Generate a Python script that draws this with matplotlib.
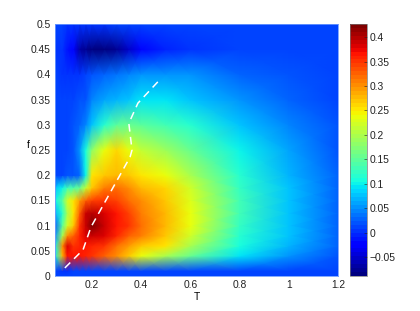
import numpy as np
import matplotlib
matplotlib.use('Agg')
import matplotlib.pyplot as plt

plt.rcParams['font.family'] = ['Liberation Sans', 'DejaVu Sans']
plt.rcParams['font.size'] = 7.4

# grid of the colour map
T_vals = [0.05, 0.08, 0.1, 0.125, 0.15, 0.175, 0.2, 0.25, 0.3, 0.35, 0.4, 0.5, 0.6, 0.8, 1.0, 1.2]
f_vals = [0, 0.01, 0.04, 0.06, 0.08, 0.1, 0.125, 0.15, 0.175, 0.2, 0.25, 0.3, 0.35, 0.4, 0.45, 0.5]

# one row per f value
row_000 = [.01, .01, .01, .01, .01, .01, .01, .01, .01, .01, .01, .01, .01, .01, .01, .01]
row_001 = [.01, 0, 0, .01, .01, .01, .01, .01, .01, .015, .015, .015, .015, .015, .015, .01]
row_004 = [.10, .28, .37, .37, .37, .36, .35, .33, .30, .27, .24, .20, .16, .09, .05, .02]
row_006 = [.10, .30, .38, .35, .36, .37, .36, .35, .32, .29, .27, .25, .20, .11, .07, .025]
row_008 = [.05, .20, .30, .33, .36, .38, .39, .38, .36, .33, .31, .27, .22, .12, .075, .025]
row_010 = [.03, .15, .22, .27, .35, .39, .42, .39, .37, .35, .32, .28, .24, .125, .075, .025]
row_0125 = [.07, .12, .20, .25, .33, .39, .40, .38, .37, .34, .31, .28, .24, .13, .08, .028]
row_015 = [.10, .15, .22, .25, .29, .33, .34, .35, .34, .32, .30, .27, .23, .13, .08, .028]
row_0175 = [.08, .10, .13, .14, .16, .21, .27, .31, .32, .30, .28, .26, .22, .125, .075, .025]
row_020 = [.015, .015, .02, .02, .03, .10, .25, .27, .28, .27, .25, .24, .20, .12, .07, .025]
row_025 = [.01, .01, .015, .02, .05, .11, .18, .24, .26, .24, .21, .19, .16, .10, .06, .02]
row_030 = [.01, .01, .015, .02, .03, .04, .08, .12, .15, .16, .15, .135, .12, .08, .045, .018]
row_035 = [.01, .01, .01, .01, .02, .02, .04, .06, .07, .08, .09, .09, .08, .055, .03, .015]
row_040 = [.01, .005, .005, .005, .005, .01, .02, .03, .035, .04, .05, .055, .05, .03, .02, .012]
row_045 = [.005, 0, -.01, -.02, -.07, -.08, -.085, -.085, -.08, -.05, -.02, -.005, 0, .015, .015, .012]
row_050 = [.01, .01, .005, .005, .005, .005, .005, .005, .01, .01, .01, .01, .01, .012, .012, .012]

# dashed curve
line_T = [.09, .164, .196, .355, .363, .35, .387, .477]
line_f = [.016, .052, .097, .236, .25, .303, .343, .39]

x_ticks = [0.2, 0.4, 0.6, 0.8, 1, 1.2]
y_ticks = [0, 0.05, 0.1, 0.15, 0.2, 0.25, 0.3, 0.35, 0.4, 0.45, 0.5]
y_labels = ['0', '0.05', '0.1', '0.15', '0.2', '0.25', '0.3', '0.35', '0.4', '0.45', '0.5']
cb_ticks = [-0.05, 0, 0.05, 0.1, 0.15, 0.2, 0.25, 0.3, 0.35, 0.4]
cb_labels = ['\u22120.05', '0', '0.05', '0.1', '0.15', '0.2', '0.25', '0.3', '0.35', '0.4']

Z = np.array([row_000, row_001, row_004, row_006, row_008, row_010, row_0125, row_015,
              row_0175, row_020, row_025, row_030, row_035, row_040, row_045, row_050])

W, H = 420, 311
fig = plt.figure(figsize=(W / 100, H / 100), dpi=100)
ax = fig.add_axes([55 / W, 1 - 276 / H, 283 / W, 252 / H])
cax = fig.add_axes([350 / W, 1 - 276 / H, 17 / W, 252 / H])

cmap = plt.get_cmap('jet', 64)
pc = ax.pcolormesh(T_vals, f_vals, Z, shading='gouraud', cmap=cmap, vmin=-0.089, vmax=0.427)
ax.plot(line_T, line_f, color='white', lw=1.1, dashes=(5, 3.5))

ax.set_xlim(0.05, 1.2)
ax.set_ylim(0, 0.5)
ax.set_xticks(x_ticks)
ax.set_xticklabels(['0.2', '0.4', '0.6', '0.8', '1', '1.2'])
ax.set_yticks(y_ticks)
ax.set_yticklabels(y_labels)
ax.tick_params(length=0, pad=3, colors='#222222')
ax.set_xlabel('T', labelpad=1)
ax.set_ylabel('f', rotation=0, labelpad=2)
for s in ax.spines.values():
    s.set_color('#6f9bff')
    s.set_linewidth(0.6)

cb = fig.colorbar(pc, cax=cax)
cb.set_ticks(cb_ticks)
cb.set_ticklabels(cb_labels)
cb.ax.tick_params(direction='in', length=2.5, width=0.4, pad=2, colors='#222222')
cb.outline.set_edgecolor('#777777')
cb.outline.set_linewidth(0.5)

fig.savefig('out.png', dpi=100)
